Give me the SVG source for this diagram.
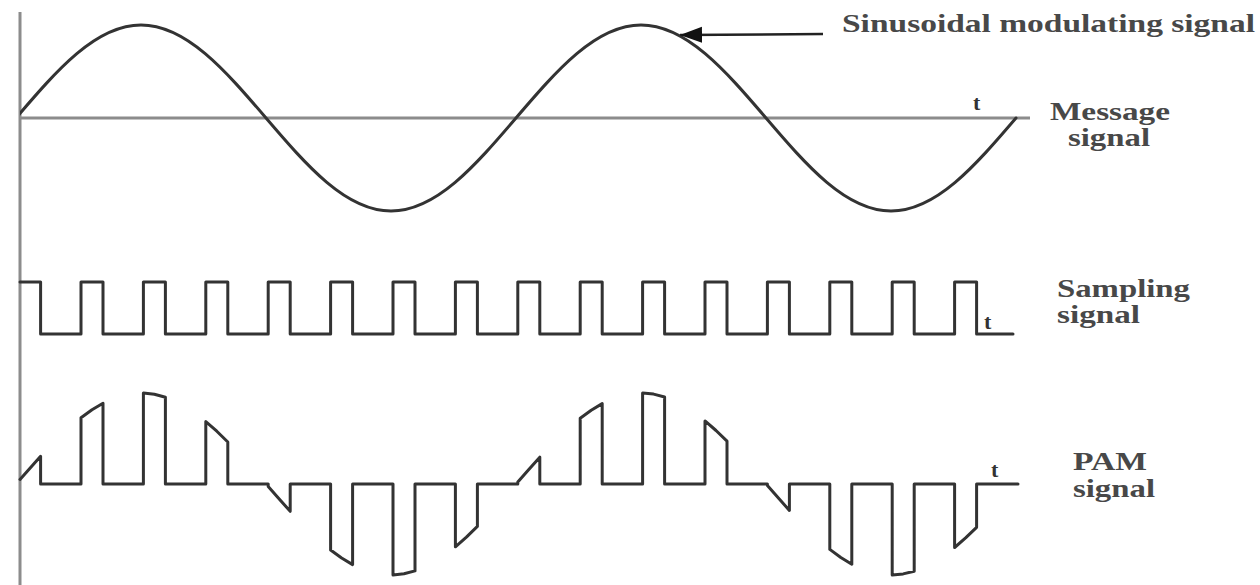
<svg xmlns="http://www.w3.org/2000/svg" width="1260" height="585" viewBox="0 0 1260 585">
<style>
.axis{stroke:#8c8c8c;stroke-width:3;fill:none}
.wave{stroke:#333;stroke-width:3;fill:none;stroke-linejoin:round;stroke-linecap:round}
.lbl{font-family:"Liberation Serif","Times New Roman",serif;font-weight:bold;font-size:25px;fill:#484848}
.t{font-family:"Liberation Serif","Times New Roman",serif;font-weight:bold;font-size:22px;fill:#333}
</style>
<defs>
<clipPath id="clipR"><rect x="20" y="0" width="1000" height="585"/></clipPath>
<marker id="ah" markerUnits="userSpaceOnUse" markerWidth="24" markerHeight="18" refX="22" refY="8" orient="auto">
<path d="M0,0 L22,8 L0,16 z" fill="#111"/>
</marker>
</defs>
<rect width="1260" height="585" fill="#fff"/>
<g id="axes">
<line class="axis" x1="20" y1="12" x2="20" y2="585"/>
<line class="axis" x1="20" y1="118" x2="1030" y2="118" stroke-width="2.5"/>
</g>
<g id="message-signal">
<path class="wave" clip-path="url(#clipR)" stroke="#444" stroke-width="2.8" d="M16,118 C56.77,70.4 95.76,25 141,25 C186.24,25 225.23,70.4 266,118 C306.77,165.6 345.76,211 391,211 C436.24,211 475.23,165.6 516,118 C556.77,70.4 595.76,25 641,25 C686.24,25 725.23,70.4 766,118 C806.77,165.6 845.76,211 891,211 C936.24,211 975.23,165.6 1016,118"/>
<text class="t" x="973" y="110">t</text>
<text class="lbl" x="1050" y="120" textLength="120" lengthAdjust="spacingAndGlyphs">Message</text>
<text class="lbl" x="1068" y="146" textLength="82" lengthAdjust="spacingAndGlyphs">signal</text>
</g>
<g id="sampling-signal">
<path class="wave" d="M20,282 H40.6 V334 H81 V282 H103 V334 H143.4 V282 H165.4 V334 H205.8 V282 H227.8 V334 H268.2 V282 H290.2 V334 H330.6 V282 H352.6 V334 H393 V282 H415 V334 H455.4 V282 H477.4 V334 H517.8 V282 H539.8 V334 H580.2 V282 H602.2 V334 H642.6 V282 H664.6 V334 H705 V282 H727 V334 H767.4 V282 H789.4 V334 H829.8 V282 H851.8 V334 H892.2 V282 H914.2 V334 H954.6 V282 H976.6 V334 H1013"/>
<text class="t" x="984" y="329">t</text>
<text class="lbl" x="1057" y="297" textLength="133" lengthAdjust="spacingAndGlyphs">Sampling</text>
<text class="lbl" x="1057" y="323" textLength="83" lengthAdjust="spacingAndGlyphs">signal</text>
</g>
<g id="pam-signal">
<path class="wave" d="M20,479.4 L40.6,456.3 V484 H81 V417.7 L92,409.7 L103,403.2 V484 H143.4 V393 L154.4,394.3 L165.4,397.3 V484 H205.8 V421.6 L216.8,431.2 L227.8,442 V484 H268.2 V486.5 L279.2,499 L290.2,511.3 V484 H330.6 V550 L341.6,558 L352.6,564.6 V484 H393 V575 L404,573.8 L415,570.9 V484 H455.4 V546.8 L466.4,537.1 L477.4,526.4 V484 H517.8 V482 L528.8,469.4 L539.8,457.2 V484 H580.2 V418.3 L591.2,410.3 L602.2,403.6 V484 H642.6 V393 L653.6,394.1 L664.6,397 V484 H705 V420.9 L716,430.5 L727,441.2 V484 H767.4 V485.6 L778.4,498.1 L789.4,510.4 V484 H829.8 V549.4 L840.8,557.5 L851.8,564.2 V484 H892.2 V575 L903.2,573.9 L914.2,571.2 V484 H954.6 V547.5 L965.6,537.9 L976.6,527.3 V484 H1018"/>
<text class="t" x="991" y="477">t</text>
<text class="lbl" x="1073" y="470" textLength="74" lengthAdjust="spacingAndGlyphs">PAM</text>
<text class="lbl" x="1073" y="497" textLength="82" lengthAdjust="spacingAndGlyphs">signal</text>
</g>
<g id="connectors">
<line x1="823" y1="34" x2="680" y2="35" stroke="#222" stroke-width="2.5" marker-end="url(#ah)"/>
</g>
<g id="annotation">
<text class="lbl" x="842" y="32" textLength="413" lengthAdjust="spacingAndGlyphs">Sinusoidal modulating signal</text>
</g>
</svg>
